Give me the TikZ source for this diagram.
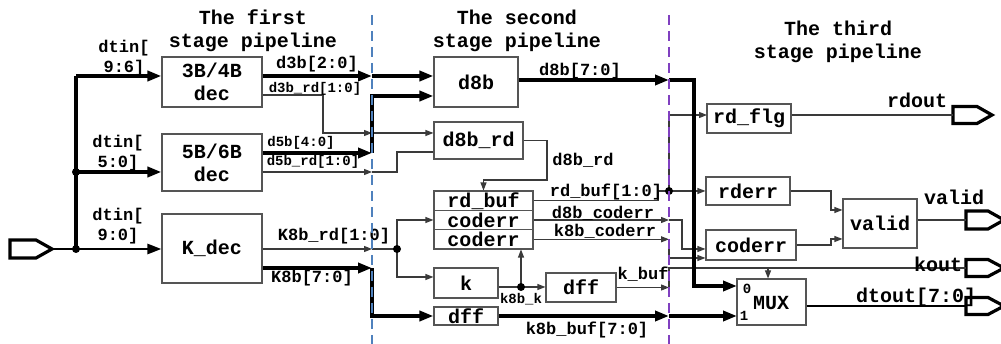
\documentclass[tikz,border=0pt]{standalone}
\usepackage{fontspec}
\setmainfont{Liberation Mono}
\usetikzlibrary{arrows.meta}
\definecolor{stageblue}{HTML}{4F81BD}
\definecolor{stagepurple}{HTML}{8040C0}
\definecolor{wiregray}{HTML}{3A3A3A}
\definecolor{boxgray}{HTML}{555555}
\newcommand\fbig{\fontsize{20}{23}\selectfont\bfseries}
\newcommand\fmid{\fontsize{17}{20}\selectfont\bfseries}
\newcommand\fsml{\fontsize{14}{16}\selectfont\bfseries}
\begin{document}
\begin{tikzpicture}[x=1pt,y=-1pt,
  blk/.style={draw=boxgray,line width=1.1pt,fill=white,inner sep=0pt,
    font=\fbig,align=center},
  wire/.style={draw=wiregray,line width=1.1pt},
  bus/.style={draw=black,line width=3.6pt},
  mbus/.style={draw=black,line width=2.6pt},
  ta/.style={-{Triangle[length=8pt,width=6pt]}},
  tb/.style={-{Triangle[length=14pt,width=10pt]}},
  lbig/.style={font=\fbig,inner sep=0pt,align=center},
  lmid/.style={font=\fmid,inner sep=0pt,align=center},
  lsml/.style={font=\fsml,inner sep=0pt,align=center},
  port/.style={draw=black,line width=3.2pt,line join=miter},
  stageline/.style={line width=1.6pt,dash pattern=on 10pt off 6pt},
  dot/.style={fill=black}]
\useasboundingbox (0,0) rectangle (1001,344);

% stage titles
\node[lbig] (t1) at (253,31) {The first\\stage pipeline};
\node[lbig] (t2) at (517,31) {The second\\stage pipeline};
\node[lbig] (t3) at (838,42) {The third\\stage pipeline};

% blocks
\node[blk,minimum width=100pt,minimum height=50pt] (b34) at (212,82) {3B/4B\\dec};
\node[blk,minimum width=100pt,minimum height=57pt] (b56) at (212,162.5) {5B/6B\\dec};
\node[blk,minimum width=100pt,minimum height=69pt] (kdec) at (212,248.5) {K\_dec};
\node[blk,minimum width=84pt,minimum height=50pt] (d8b) at (476,82) {d8b};
\node[blk,minimum width=89pt,minimum height=37pt] (d8brd) at (478.5,140.5) {d8b\_rd};
\node[blk,minimum width=99pt,minimum height=19.33pt] (rb) at (483.5,200.7) {rd\_buf};
\node[blk,minimum width=99pt,minimum height=19.33pt] (ce1) at (483.5,220) {coderr};
\node[blk,minimum width=99pt,minimum height=19.33pt] (ce2) at (483.5,239.3) {coderr};
\node[blk,minimum width=64pt,minimum height=30pt] (kbox) at (466,283) {k};
\node[blk,minimum width=64pt,minimum height=18pt] (dff1) at (466,316) {dff};
\node[blk,minimum width=70pt,minimum height=29pt] (dff2) at (581,287.5) {dff};
\node[blk,minimum width=84pt,minimum height=29pt] (rdflg) at (749,118.5) {rd\_flg};
\node[blk,minimum width=84pt,minimum height=28pt] (rderr) at (748,191) {rderr};
\node[blk,minimum width=90pt,minimum height=30pt] (ce3) at (751,245) {coderr};
\node[blk,minimum width=74pt,minimum height=49pt] (valid) at (880,223.5) {valid};
\node[blk,minimum width=69pt,minimum height=46pt] (mux) at (771.5,302) {};
\node[lbig] (muxt) at (771,303) {MUX};
\node[lsml] (mux0) at (747,289) {0};
\node[lsml] (mux1) at (744,316) {1};

% ports
\coordinate (pin) at (52,249);
\coordinate (prd) at (953,115);
\coordinate (pvl) at (966,220);
\coordinate (pko) at (966,268);
\coordinate (pdt) at (966,306);
\draw[port] (pin) -- ++(-16,-9) -- ++(-26,0) -- ++(0,18) -- ++(26,0) -- cycle;
\draw[port] (prd) -- ++(0,-8.5) -- ++(24,0) -- ++(15,8.5) -- ++(-15,8.5) -- ++(-24,0) -- cycle;
\draw[port] (pvl) -- ++(0,-9) -- ++(22,0) -- ++(16,9) -- ++(-16,9) -- ++(-22,0) -- cycle;
\draw[port] (pko) -- ++(0,-8.5) -- ++(22,0) -- ++(16,8.5) -- ++(-16,8.5) -- ++(-22,0) -- cycle;
\draw[port] (pdt) -- ++(0,-8.5) -- ++(22,0) -- ++(16,8.5) -- ++(-16,8.5) -- ++(-22,0) -- cycle;

% input distribution
\coordinate (jtop) at (76,76);
\coordinate (j56) at (76,172);
\coordinate (jin) at (76,249);
\draw[bus] (jtop) -- (jin);
\draw[bus,tb] (jtop) -- (b34.west |- jtop);
\draw[bus,tb] (j56) -- (b56.west |- j56);
\draw[mbus] (pin) -- (jin);
\draw[mbus,tb] (jin) -- (kdec.west |- jin);
\fill[dot] (j56) circle[radius=4];
\fill[dot] (jin) circle[radius=4];
\node[lmid] (l1) at (124,58) {dtin[\\9:6]};
\node[lmid] (l2) at (118,153) {dtin[\\5:0]};
\node[lmid] (l3) at (118,226) {dtin[\\9:0]};

% first stage outputs
\coordinate (a1) at (372,76);
\draw[bus,tb] (b34.east |- a1) -- (a1);
\draw[bus,tb] (a1) -- (d8b.west |- a1);
\coordinate (c1) at (323,95);
\coordinate (c2) at (372,133);
\draw[wire,ta] (b34.east |- c1) -- (c1) |- (c2);
\draw[wire,ta] (c2) -- (d8brd.west |- c2);
\coordinate (c3) at (372,153);
\coordinate (c4) at (372,96);
\draw[bus,tb] (b56.east |- c3) -- (c3);
\draw[bus,tb] (c3) -- (c4) -- (d8b.west |- c4);
\coordinate (c5) at (372,172);
\coordinate (c6) at (397,152);
\draw[wire,ta] (b56.east |- c5) -- (c5);
\draw[wire] (c5) -| (c6) -- (d8brd.west |- c6);
\coordinate (c7) at (372,249);
\coordinate (jk) at (397,249);
\coordinate (c8) at (397,277);
\draw[wire,ta] (kdec.east |- c7) -- (c7);
\draw[wire] (c7) -- (jk);
\draw[wire,ta] (jk) |- (ce1.west);
\draw[wire,ta] (jk) -- (c8) -- (kbox.west |- c8);
\fill[dot] (jk) circle[radius=4];
\coordinate (c9) at (372,268);
\coordinate (c10) at (372,316);
\draw[bus,tb] (kdec.east |- c9) -- (c9);
\draw[bus,tb] (c9) -- (c10) -- (dff1.west);

\node[lmid] (l4) at (317,64) {d3b[2:0]};
\node[lsml] (l5) at (315,89) {d3b\_rd[1:0]};
\node[lsml] (l6) at (301,143) {d5b[4:0]};
\node[lsml] (l7) at (313,162) {d5b\_rd[1:0]};
\node[lmid] (l8) at (334,236) {K8b\_rd[1:0]};
\node[lmid] (l9) at (312,278) {K8b[7:0]};

% second stage outputs
\coordinate (c11) at (547,180);
\coordinate (c12) at (483.5,180);
\draw[wire,ta] (d8brd.east) -| (c11) -- (c12) -- (rb.north);
\coordinate (c13) at (658,200.7);
\coordinate (jrd) at (669,191);
\coordinate (c14) at (707,115);
\draw[wire] (rb.east) -- (c13) |- (jrd);
\draw[wire,ta] (jrd) |- (c14);
\draw[wire,ta] (jrd) -- (rderr.west);
\fill[dot] (jrd) circle[radius=4];
\coordinate (c15) at (669,220);
\coordinate (c16) at (682,249);
\draw[wire,ta] (ce1.east) -- (c15);
\draw[wire,ta] (c15) -| (c16) -- (ce3.west |- c16);
\coordinate (c17) at (669,239.3);
\coordinate (c18) at (669,258);
\draw[wire,ta] (ce2.east) -- (c17);
\draw[wire,ta] (c17) -- (c18) -- (ce3.west |- c18);
\coordinate (jkk) at (521,287);
\draw[wire] (kbox.east |- jkk) -- (jkk);
\draw[wire,ta] (jkk) -- (dff2.west |- jkk);
\draw[wire,ta] (jkk) -- (ce2.south -| jkk);
\fill[dot] (jkk) circle[radius=4];
\coordinate (c19) at (669,287.5);
\coordinate (c20) at (669,268);
\coordinate (c21) at (768,268);
\draw[wire,ta] (dff2.east) -- (c19);
\draw[wire] (c19) -- (c20) -- (pko);
\draw[wire,ta] (c21) -- (c21 |- mux.north);
\coordinate (c22) at (669,80);
\coordinate (c23) at (694,80);
\coordinate (m0) at (737,286);
\draw[bus,tb] (d8b.east |- c22) -- (c22);
\draw[bus,tb] (c22) -- (c23) |- (m0);
\coordinate (c24) at (669,316);
\coordinate (m1) at (737,316);
\draw[bus,tb] (dff1.east) -- (c24);
\draw[bus,tb] (c24) -- (m1);

\node[lmid] (l10) at (580,71) {d8b[7:0]};
\node[lmid] (l11) at (583,160) {d8b\_rd};
\node[lmid] (l12) at (606,192) {rd\_buf[1:0]};
\node[lmid] (l13) at (603,213) {d8b\_coderr};
\node[lmid] (l14) at (605,231) {k8b\_coderr};
\node[lsml] (l15) at (521,299) {k8b\_k};
\node[lmid] (l16) at (643,274) {k\_buf};
\node[lmid] (l17) at (587,330) {k8b\_buf[7:0]};

% third stage outputs
\coordinate (c25) at (831,210);
\coordinate (c26) at (831,239);
\draw[wire] (rdflg.east |- c14) -- (prd);
\draw[wire,ta] (rderr.east) -| (c25) -- (valid.west |- c25);
\draw[wire,ta] (ce3.east) -| (c26) -- (valid.west |- c26);
\draw[wire] (valid.east |- pvl) -- (pvl);
\draw[mbus] (mux.east |- pdt) -- (pdt);

\node[lbig] (l18) at (917,100) {rdout};
\node[lbig] (l19) at (954,197) {valid};
\node[lbig] (l20) at (938,264) {kout};
\node[lbig] (l21) at (916,297) {dtout[7:0]};

% pipeline stage boundaries
\coordinate (s1a) at (372,15);
\coordinate (s1b) at (372,344);
\coordinate (s2a) at (669,15);
\coordinate (s2b) at (669,344);
\draw[stageline,draw=stageblue] (s1a) -- (s1b);
\draw[stageline,draw=stagepurple] (s2a) -- (s2b);
\end{tikzpicture}
\end{document}
